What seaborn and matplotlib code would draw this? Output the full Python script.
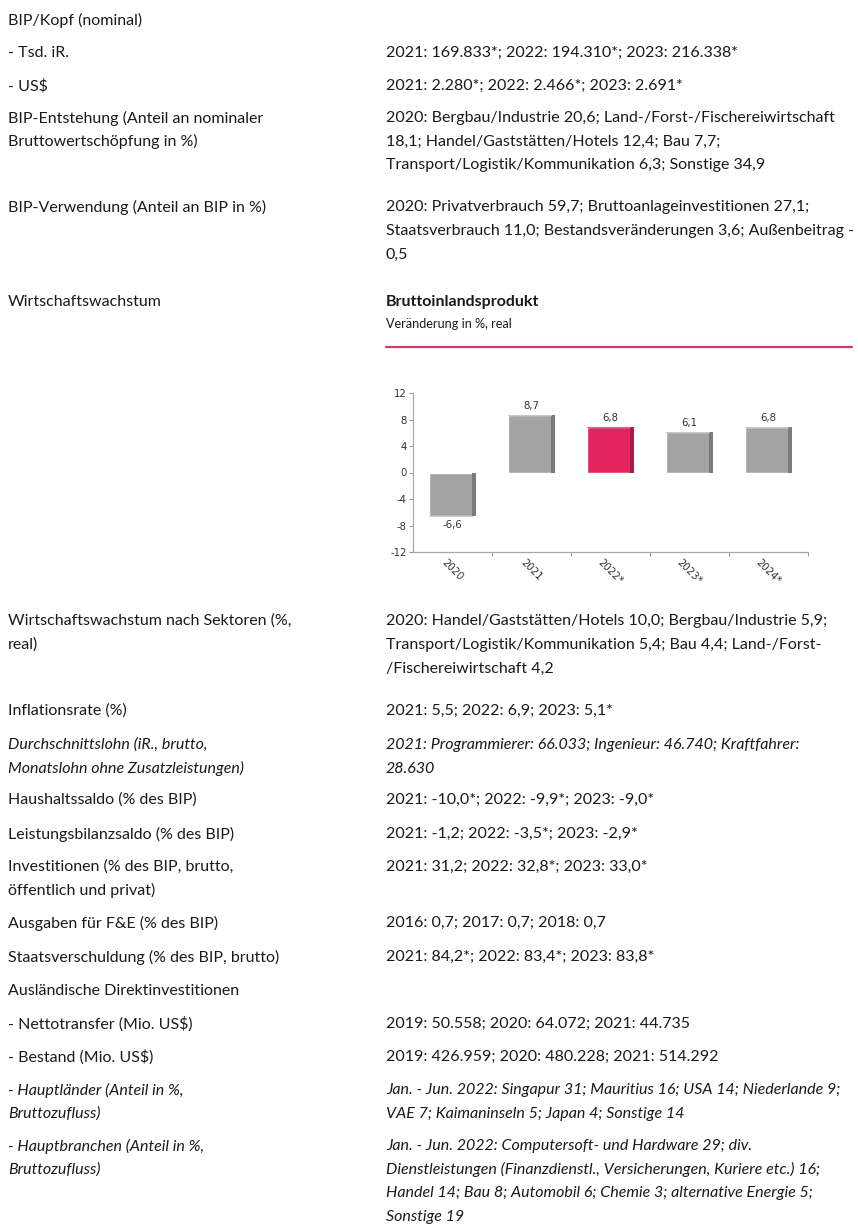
import matplotlib
matplotlib.use("Agg")
import matplotlib.pyplot as plt
import seaborn as sns
from matplotlib.patches import Rectangle
from matplotlib.ticker import FixedLocator

# chart data: GDP growth, % real
years = ["2020", "2021", "2022*", "2023*", "2024*"]
growth = [-6.6, 8.7, 6.8, 6.1, 6.8]
highlight = "2022*"
y_ticks = [-12, -8, -4, 0, 4, 8, 12]

# text table: (left lines, right lines, italic)
rows = [
    (["BIP/Kopf (nominal)"], [], False),
    (["- Tsd. iR."], ["2021: 169.833*; 2022: 194.310*; 2023: 216.338*"], False),
    (["- US$"], ["2021: 2.280*; 2022: 2.466*; 2023: 2.691*"], False),
    (["BIP-Entstehung (Anteil an nominaler", "Bruttowertschöpfung in %)"],
     ["2020: Bergbau/Industrie 20,6; Land-/Forst-/Fischereiwirtschaft",
      "18,1; Handel/Gaststätten/Hotels 12,4; Bau 7,7;",
      "Transport/Logistik/Kommunikation 6,3; Sonstige 34,9"], False),
    (["BIP-Verwendung (Anteil an BIP in %)"],
     ["2020: Privatverbrauch 59,7; Bruttoanlageinvestitionen 27,1;",
      "Staatsverbrauch 11,0; Bestandsveränderungen 3,6; Außenbeitrag -",
      "0,5"], False),
    (["Wirtschaftswachstum"], [], False),
    (["Wirtschaftswachstum nach Sektoren (%,", "real)"],
     ["2020: Handel/Gaststätten/Hotels 10,0; Bergbau/Industrie 5,9;",
      "Transport/Logistik/Kommunikation 5,4; Bau 4,4; Land-/Forst-",
      "/Fischereiwirtschaft 4,2"], False),
    (["Inflationsrate (%)"], ["2021: 5,5; 2022: 6,9; 2023: 5,1*"], False),
    (["Durchschnittslohn (iR., brutto,", "Monatslohn ohne Zusatzleistungen)"],
     ["2021: Programmierer: 66.033; Ingenieur: 46.740; Kraftfahrer:", "28.630"], True),
    (["Haushaltssaldo (% des BIP)"], ["2021: -10,0*; 2022: -9,9*; 2023: -9,0*"], False),
    (["Leistungsbilanzsaldo (% des BIP)"], ["2021: -1,2; 2022: -3,5*; 2023: -2,9*"], False),
    (["Investitionen (% des BIP, brutto,", "öffentlich und privat)"],
     ["2021: 31,2; 2022: 32,8*; 2023: 33,0*"], False),
    (["Ausgaben für F&E (% des BIP)"], ["2016: 0,7; 2017: 0,7; 2018: 0,7"], False),
    (["Staatsverschuldung (% des BIP, brutto)"], ["2021: 84,2*; 2022: 83,4*; 2023: 83,8*"], False),
    (["Ausländische Direktinvestitionen"], [], False),
    (["- Nettotransfer (Mio. US$)"], ["2019: 50.558; 2020: 64.072; 2021: 44.735"], False),
    (["- Bestand (Mio. US$)"], ["2019: 426.959; 2020: 480.228; 2021: 514.292"], False),
    (["- Hauptländer (Anteil in %,", "Bruttozufluss)"],
     ["Jan. - Jun. 2022: Singapur 31; Mauritius 16; USA 14; Niederlande 9;",
      "VAE 7; Kaimaninseln 5; Japan 4; Sonstige 14"], True),
    (["- Hauptbranchen (Anteil in %,", "Bruttozufluss)"],
     ["Jan. - Jun. 2022: Computersoft- und Hardware 29; div.",
      "Dienstleistungen (Finanzdienstl., Versicherungen, Kuriere etc.) 16;",
      "Handel 14; Bau 8; Automobil 6; Chemie 3; alternative Energie 5;",
      "Sonstige 19"], True),
]
chart_title = "Bruttoinlandsprodukt"
chart_subtitle = "Veränderung in %, real"

# layout (pixels)
W, H = 858, 1226
row_y = [20, 53, 86, 118, 207, 302, 621, 711, 745, 800, 834, 867, 923, 957,
         991, 1024, 1057, 1090, 1146]
line_step = 23.7
left_x, right_x = 8, 386
text_font = "Lato"
text_size = 11.5
text_color = "#1a1a1a"

sns.set_theme(style="white")
plt.rcParams["font.family"] = ["DejaVu Sans"]

fig = plt.figure(figsize=(W / 100, H / 100), dpi=100)


def put(x, y, s, **kw):
    fig.text(x / W, 1 - y / H, s, va="center", ha="left", family=text_font,
             color=text_color, **kw)


for (left, right, italic), y in zip(rows, row_y):
    style = "italic" if italic else "normal"
    for i, s in enumerate(left):
        put(left_x, y + i * line_step, s, fontsize=text_size, style=style)
    for i, s in enumerate(right):
        put(right_x, y + i * line_step, s, fontsize=text_size, style=style)

# chart heading
put(right_x, 302, chart_title, fontsize=text_size, weight="bold")
put(right_x, 324, chart_subtitle, fontsize=9.1)
fig.add_artist(plt.Line2D([right_x / W, 852 / W], [1 - 347 / H] * 2,
                          color="#c83a72", lw=1.6))

# bar chart
ax = fig.add_axes([413 / W, 1 - 552 / H, 395 / W, 159 / H])
palette = {y: ("#e3245f" if y == highlight else "#a3a3a3") for y in years}
sns.barplot(x=years, y=growth, hue=years, palette=palette, legend=False,
            width=0.6, saturation=1, ax=ax)

shade = {"#e3245f": "#a51b47", "#a3a3a3": "#7b7b7b"}
for p, yr, v in zip(ax.patches, years, growth):
    x0, w = p.get_x(), p.get_width()
    y0, h = p.get_y(), p.get_height()
    side = Rectangle((x0 + w * 0.91, y0), w * 0.09, h,
                     color=shade[palette[yr]], lw=0, zorder=p.get_zorder() + 0.1)
    ax.add_patch(side)
    ax.plot([x0, x0 + w * 0.91], [v, v], color="#c9c9c9" if yr != highlight else "#ee5a86",
            lw=0.8, zorder=p.get_zorder() + 0.2)
    label = f"{v:.1f}".replace(".", ",")
    ax.annotate(label, (x0 + w / 2, v), xytext=(0, 3 if v > 0 else -3),
                textcoords="offset points", ha="center",
                va="bottom" if v > 0 else "top", fontsize=7.3, color="#333333")

ax.set_ylim(-12, 12)
ax.set_xlim(-0.5, len(years) - 0.5)
ax.set_yticks(y_ticks)
ax.set_yticklabels([str(t) for t in y_ticks])
ax.xaxis.set_minor_locator(FixedLocator([i + 0.5 for i in range(len(years))]))
ax.tick_params(axis="x", which="major", length=0, pad=4, labelsize=7.3,
               labelcolor="#333333", rotation=-45)
ax.tick_params(axis="x", which="minor", bottom=True, length=3, color="#9a9a9a",
               width=0.8)
ax.tick_params(axis="y", left=True, length=3, color="#9a9a9a", width=0.8,
               labelsize=7.3, labelcolor="#333333", pad=1.5)
for lbl in ax.get_xticklabels():
    lbl.set_ha("center")
for s in ["top", "right"]:
    ax.spines[s].set_visible(False)
for s in ["left", "bottom"]:
    ax.spines[s].set_color("#a8a8a8")
    ax.spines[s].set_linewidth(0.9)
ax.set_xlabel("")
ax.set_ylabel("")
ax.grid(False)

fig.savefig("out.png", dpi=100)
